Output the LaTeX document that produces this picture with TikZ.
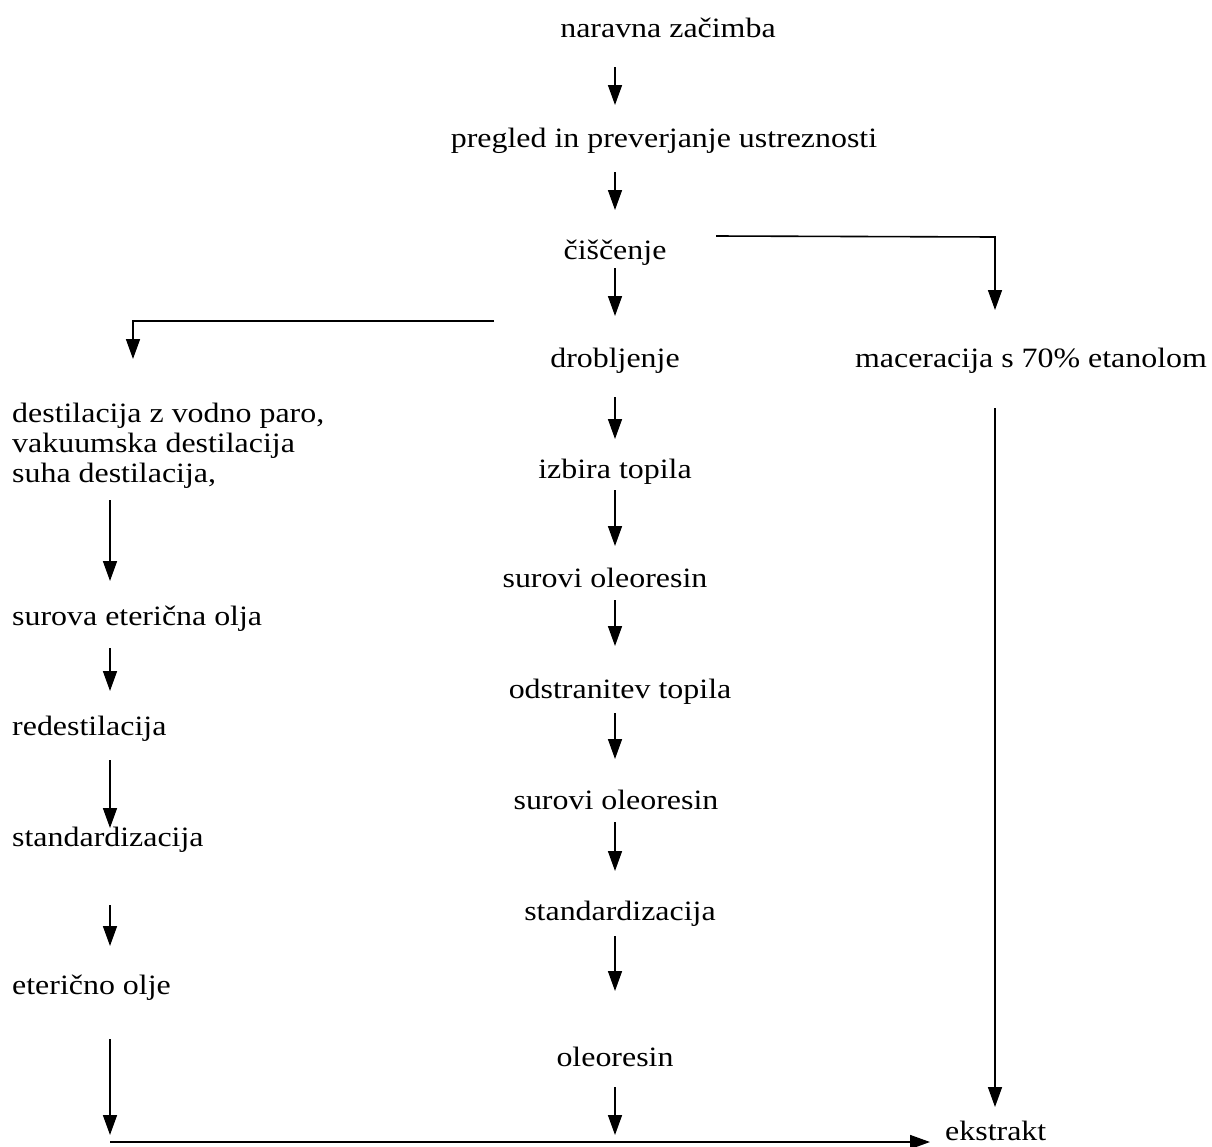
\documentclass[tikz,border=0pt]{standalone}
\usepackage{fontspec}
\setmainfont[FakeStretch=1.14]{Liberation Serif}
\usetikzlibrary{arrows.meta}
\begin{document}
\begin{tikzpicture}[x=1pt,y=-1pt,
  lbl/.style={inner sep=0pt,anchor=base,font=\fontsize{28}{30}\selectfont},
  lbll/.style={lbl,anchor=base west},
  arr/.style={line width=1.6pt,-{Triangle[width=14pt,length=20pt]}}]
\useasboundingbox (0,0) rectangle (1212,1146);
% middle column
\node[lbl] (n1) at (668,37) {naravna začimba};
\node[lbl] (n2) at (664,147) {pregled in preverjanje ustreznosti};
\node[lbl] (n3) at (615,259) {čiščenje};
\node[lbl] (n4) at (615,367) {drobljenje};
\node[lbl] (n5) at (615,478) {izbira topila};
\node[lbl] (n6) at (605,587) {surovi oleoresin};
\node[lbl] (n7) at (620,698) {odstranitev topila};
\node[lbl] (n8) at (616,809) {surovi oleoresin};
\node[lbl] (n9) at (620,920) {standardizacija};
\node[lbl] (n10) at (615,1066) {oleoresin};
% right
\node[lbl] (m1) at (1031,367) {maceracija s 70\% etanolom};
\node[lbll] (ek) at (945,1140) {ekstrakt};
% left
\node[lbll] (d1) at (12,422) {destilacija z vodno paro,};
\node[lbll] (d2) at (12,452) {vakuumska destilacija};
\node[lbll] (d3) at (12,482) {suha destilacija,};
\node[lbll] (l2) at (12,625) {surova eterična olja};
\node[lbll] (l3) at (12,735) {redestilacija};
\node[lbll] (l4) at (12,846) {standardizacija};
\node[lbll] (l5) at (12,994) {eterično olje};
% coordinates for arrows
\coordinate (a1s) at (615,67);   \coordinate (a1e) at (615,105);
\coordinate (a2s) at (615,172);  \coordinate (a2e) at (615,210);
\coordinate (a3s) at (615,268);  \coordinate (a3e) at (615,316);
\coordinate (a4s) at (615,397);  \coordinate (a4e) at (615,439);
\coordinate (a5s) at (615,490);  \coordinate (a5e) at (615,546);
\coordinate (a6s) at (615,600);  \coordinate (a6e) at (615,646);
\coordinate (a7s) at (615,713);  \coordinate (a7e) at (615,759);
\coordinate (a8s) at (615,822);  \coordinate (a8e) at (615,871);
\coordinate (a9s) at (615,936);  \coordinate (a9e) at (615,991);
\coordinate (a10s) at (615,1087); \coordinate (a10e) at (615,1135);
\coordinate (rs) at (716,236); \coordinate (rc) at (995,237); \coordinate (re) at (995,310);
\coordinate (ls) at (494,321); \coordinate (lc) at (133,321); \coordinate (le) at (133,359);
\coordinate (ms) at (995,408); \coordinate (me) at (995,1107);
\coordinate (b1s) at (110,500); \coordinate (b1e) at (110,581);
\coordinate (b2s) at (110,648); \coordinate (b2e) at (110,691);
\coordinate (b3s) at (110,760); \coordinate (b3e) at (110,828);
\coordinate (b4s) at (110,905); \coordinate (b4e) at (110,946);
\coordinate (b5s) at (110,1039); \coordinate (b5e) at (110,1135);
\coordinate (hs) at (110,1142); \coordinate (he) at (930,1142);
\foreach \i in {1,...,10} \draw[arr] (a\i s) -- (a\i e);
\foreach \i in {1,...,5} \draw[arr] (b\i s) -- (b\i e);
\draw[arr] (rs) -- (rc) -- (re);
\draw[arr] (ls) -- (lc) -- (le);
\draw[arr] (ms) -- (me);
\draw[arr] (hs) -- (he);
\end{tikzpicture}
\end{document}
